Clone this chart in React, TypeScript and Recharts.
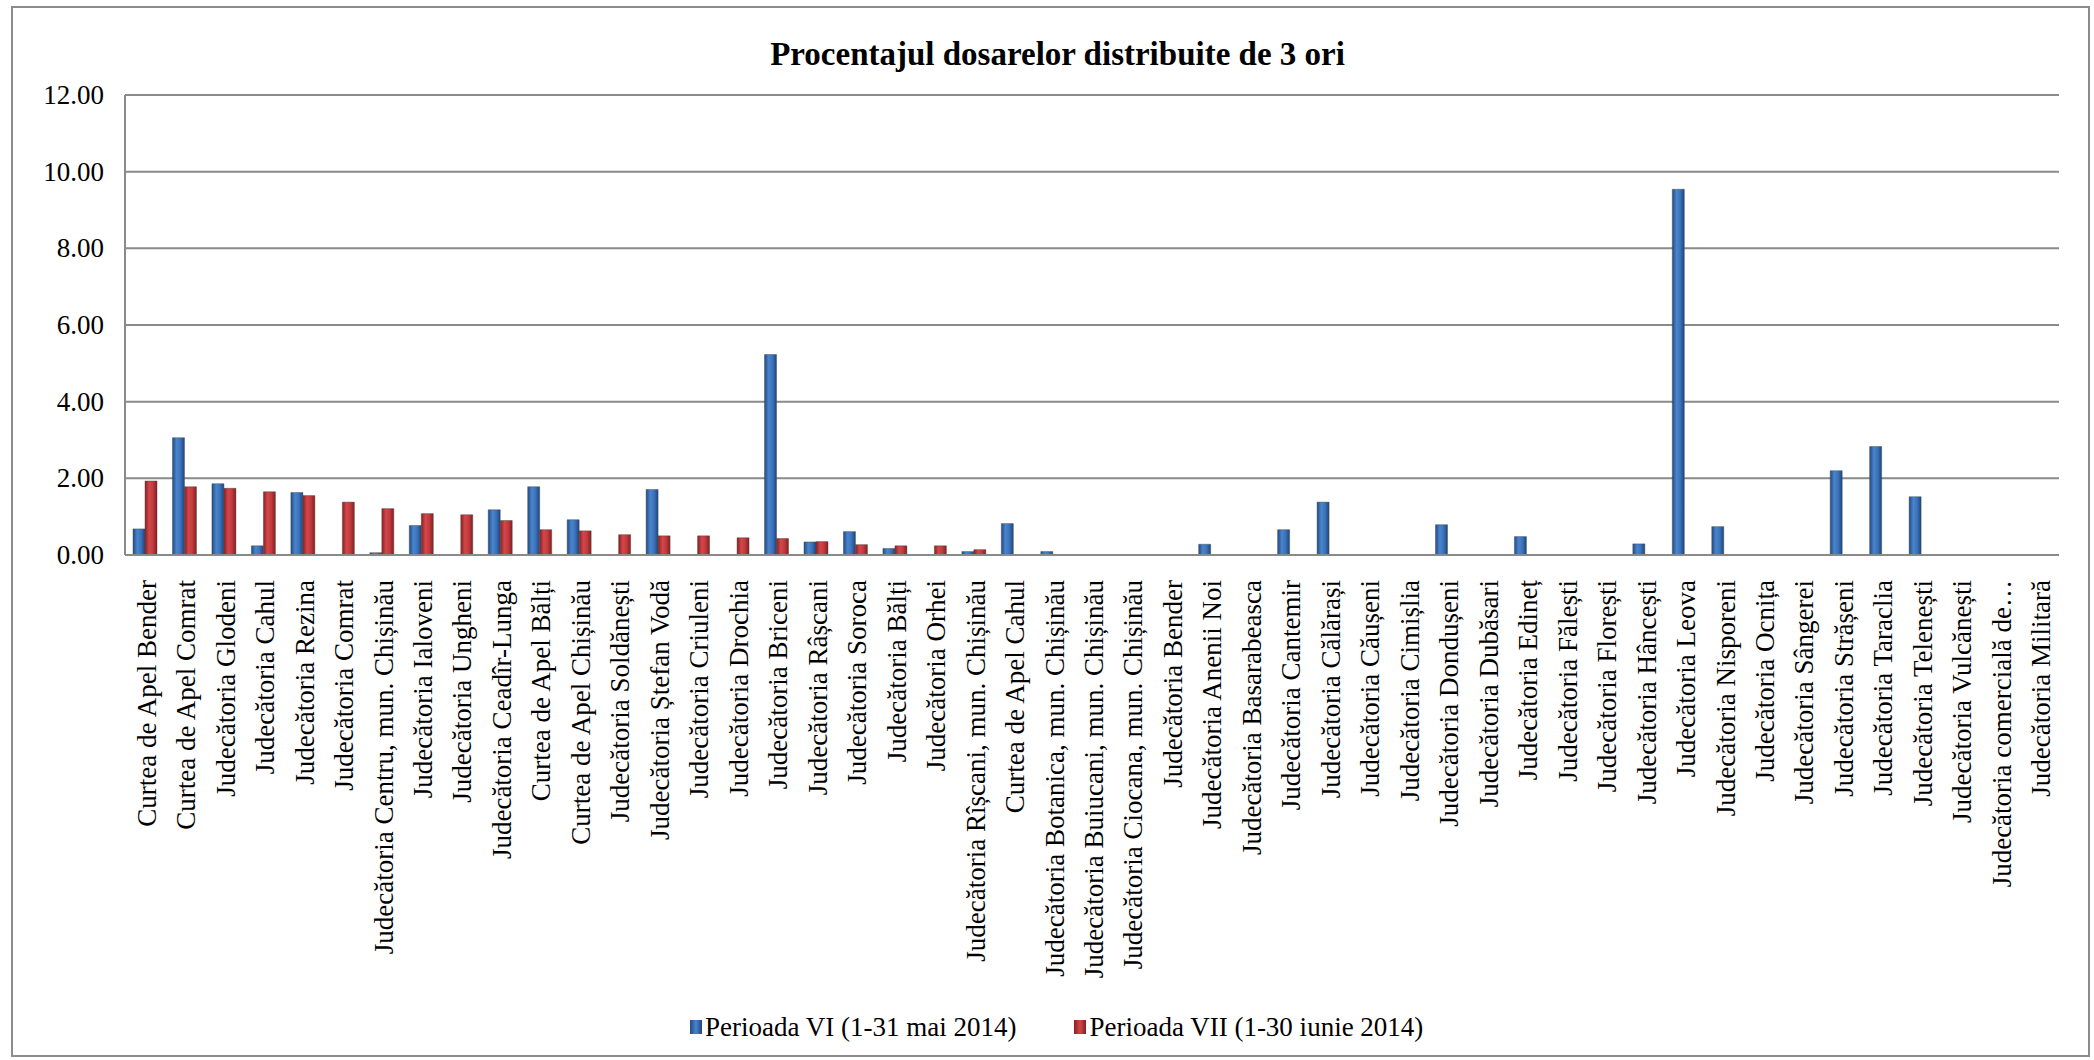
import { Bar, BarChart, CartesianGrid, XAxis, YAxis } from "recharts";

const categorii = [
  "Curtea de Apel Bender",
  "Curtea de Apel Comrat",
  "Judecătoria Glodeni",
  "Judecătoria Cahul",
  "Judecătoria Rezina",
  "Judecătoria Comrat",
  "Judecătoria Centru, mun. Chișinău",
  "Judecătoria Ialoveni",
  "Judecătoria Ungheni",
  "Judecătoria Ceadîr-Lunga",
  "Curtea de Apel Bălți",
  "Curtea de Apel Chișinău",
  "Judecătoria Soldănești",
  "Judecătoria Ștefan Vodă",
  "Judecătoria Criuleni",
  "Judecătoria Drochia",
  "Judecătoria Briceni",
  "Judecătoria Râșcani",
  "Judecătoria Soroca",
  "Judecătoria Bălți",
  "Judecătoria Orhei",
  "Judecătoria Rîșcani, mun. Chișinău",
  "Curtea de Apel Cahul",
  "Judecătoria Botanica, mun. Chișinău",
  "Judecătoria Buiucani, mun. Chișinău",
  "Judecătoria Ciocana, mun. Chișinău",
  "Judecătoria Bender",
  "Judecătoria Anenii Noi",
  "Judecătoria Basarabeasca",
  "Judecătoria Cantemir",
  "Judecătoria Călărași",
  "Judecătoria Căușeni",
  "Judecătoria Cimișlia",
  "Judecătoria Dondușeni",
  "Judecătoria Dubăsari",
  "Judecătoria Edineț",
  "Judecătoria Fălești",
  "Judecătoria Florești",
  "Judecătoria Hâncești",
  "Judecătoria Leova",
  "Judecătoria Nisporeni",
  "Judecătoria Ocnița",
  "Judecătoria Sângerei",
  "Judecătoria Strășeni",
  "Judecătoria Taraclia",
  "Judecătoria Telenești",
  "Judecătoria Vulcănești",
  "Judecătoria comercială de…",
  "Judecătoria Militară",
];

// Perioada VI (1-31 mai 2014)
const perioadaVI = [
  0.68, 3.06, 1.86, 0.24, 1.63, 0, 0.06, 0.77, 0, 1.18, 1.78, 0.92, 0, 1.71, 0, 0, 5.23,
  0.34, 0.61, 0.17, 0, 0.09, 0.82, 0.09, 0, 0, 0, 0.28, 0, 0.66, 1.38, 0, 0, 0.79, 0, 0.48,
  0, 0, 0.29, 9.54, 0.74, 0, 0, 2.2, 2.83, 1.52, 0, 0, 0,
];

// Perioada VII (1-30 iunie 2014)
const perioadaVII = [
  1.93, 1.78, 1.74, 1.65, 1.55, 1.38, 1.21, 1.08, 1.05, 0.9, 0.66, 0.63, 0.53, 0.5, 0.5,
  0.45, 0.43, 0.35, 0.27, 0.24, 0.24, 0.14, 0, 0, 0, 0, 0, 0, 0, 0, 0, 0, 0, 0, 0, 0, 0, 0,
  0, 0, 0, 0, 0, 0, 0, 0, 0, 0, 0,
];

const yTicks = [0, 2, 4, 6, 8, 10, 12];

const SERIE_VI = "Perioada VI (1-31 mai 2014)";
const SERIE_VII = "Perioada VII (1-30 iunie 2014)";

const FONT = '"Liberation Serif", "Times New Roman", serif';

const data = categorii.map((nume, i) => ({
  nume,
  vi: perioadaVI[i],
  vii: perioadaVII[i],
}));

function CategoryTick({ x, y, payload }: any) {
  const tx = x + 2;
  const ty = y + 25;
  return (
    <text
      x={tx}
      y={ty}
      transform={`rotate(-90 ${tx} ${ty})`}
      textAnchor="end"
      dominantBaseline="central"
      fontFamily={FONT}
      fontSize={27}
      fill="#000"
    >
      {payload.value}
    </text>
  );
}

function ValueTick({ y, payload }: any) {
  return (
    <text x={104} y={y} textAnchor="end" dominantBaseline="central" fontFamily={FONT} fontSize={27} fill="#000">
      {Number(payload.value).toFixed(2)}
    </text>
  );
}

export default function App() {
  return (
    <div style={{ position: "absolute", left: 0, top: 0, width: 2094, height: 1060, background: "#fff" }}>
      <div
        style={{
          position: "absolute",
          left: 19,
          top: 38,
          width: 2077,
          textAlign: "center",
          fontFamily: FONT,
          fontWeight: "bold",
          fontSize: 33,
          lineHeight: "33px",
          color: "#000",
        }}
      >
        Procentajul dosarelor distribuite de 3 ori
      </div>
      <BarChart
        width={2094}
        height={1060}
        data={data}
        margin={{ top: 95, right: 35, left: 0, bottom: 55 }}
        barGap={0}
        barSize={12}
      >
        <defs>
          <linearGradient id="gradBlue" x1="0" y1="0" x2="1" y2="0">
            <stop offset="0%" stopColor="#1f4c86" />
            <stop offset="35%" stopColor="#4a84cc" />
            <stop offset="65%" stopColor="#3c74bb" />
            <stop offset="100%" stopColor="#1d4680" />
          </linearGradient>
          <linearGradient id="gradRed" x1="0" y1="0" x2="1" y2="0">
            <stop offset="0%" stopColor="#8c1f22" />
            <stop offset="35%" stopColor="#d2474a" />
            <stop offset="65%" stopColor="#c23b3e" />
            <stop offset="100%" stopColor="#871d20" />
          </linearGradient>
        </defs>
        <CartesianGrid vertical={false} stroke="#8a8a8a" strokeWidth={2} />
        <XAxis
          dataKey="nume"
          interval={0}
          height={450}
          tickLine={false}
          tickSize={0}
          tickMargin={0}
          tick={<CategoryTick />}
          axisLine={{ stroke: "#8a8a8a", strokeWidth: 2 }}
        />
        <YAxis
          domain={[0, 12]}
          ticks={yTicks}
          width={125}
          tickLine={false}
          tick={<ValueTick />}
          axisLine={{ stroke: "#8a8a8a", strokeWidth: 2 }}
        />
        <Bar dataKey="vi" name={SERIE_VI} fill="url(#gradBlue)" stroke="rgba(70,70,70,0.45)" strokeWidth={1} isAnimationActive={false} />
        <Bar dataKey="vii" name={SERIE_VII} fill="url(#gradRed)" stroke="rgba(70,70,70,0.45)" strokeWidth={1} isAnimationActive={false} />
      </BarChart>
      <div
        style={{
          position: "absolute",
          left: 690,
          top: 1010,
          height: 34,
          display: "flex",
          alignItems: "center",
          fontFamily: FONT,
          fontSize: 27,
          color: "#000",
          whiteSpace: "nowrap",
        }}
      >
        <span style={{ display: "inline-block", width: 12, height: 14, background: "linear-gradient(90deg,#1f4c86,#4a84cc,#1d4680)", marginRight: 3 }} />
        <span>{SERIE_VI}</span>
        <span style={{ display: "inline-block", width: 12, height: 14, background: "linear-gradient(90deg,#8c1f22,#d2474a,#871d20)", marginLeft: 58, marginRight: 3 }} />
        <span>{SERIE_VII}</span>
      </div>
      <div
        style={{
          position: "absolute",
          left: 11,
          top: 6,
          width: 2075,
          height: 1047,
          border: "2px solid #8c8c8c",
          pointerEvents: "none",
        }}
      />
    </div>
  );
}
